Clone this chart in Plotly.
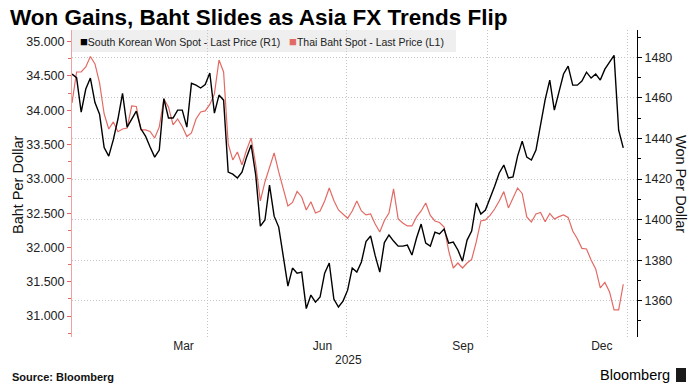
import pandas as pd
import plotly.graph_objects as go

# ---------------- data ----------------
start_date = "2025-01-02"
end_date = "2025-12-29"
n_points = 121

won = [1471.8, 1470.0, 1453.0, 1464.4, 1469.8, 1457.7, 1452.0, 1435.5, 1431.3, 1439.4,
       1449.6, 1462.3, 1445.6, 1449.3, 1453.5, 1444.8, 1441.2, 1435.8, 1430.8, 1434.3,
       1459.7, 1450.1, 1450.1, 1454.0, 1454.0, 1445.6, 1467.2, 1466.3, 1464.9, 1466.6,
       1472.3, 1452.5, 1461.4, 1458.9, 1423.4, 1422.4, 1420.5, 1423.4, 1430.8, 1436.8,
       1421.9, 1396.8, 1399.8, 1417.0, 1401.7, 1396.3, 1382.0, 1367.2, 1376.1, 1373.6,
       1374.1, 1356.1, 1362.8, 1359.3, 1361.8, 1373.6, 1378.6, 1360.8, 1356.9, 1359.8,
       1365.2, 1376.1, 1374.1, 1379.1, 1389.2, 1391.9, 1382.2, 1374.1, 1388.7, 1392.4,
       1389.4, 1386.9, 1386.9, 1387.4, 1382.5, 1390.9, 1397.8, 1388.4, 1386.9, 1393.8,
       1392.9, 1395.3, 1388.4, 1388.9, 1385.0, 1379.5, 1389.9, 1394.3, 1408.2, 1402.7,
       1404.7, 1410.4, 1416.5, 1423.0, 1426.9, 1420.5, 1421.0, 1431.3, 1438.7, 1430.8,
       1429.4, 1434.3, 1446.1, 1459.2, 1468.8, 1454.0, 1462.9, 1471.8, 1475.7, 1466.3,
       1466.3, 1468.3, 1472.7, 1469.8, 1471.8, 1468.8, 1474.2, 1477.7, 1481.0, 1444.1, 1435.4]

baht = [34.106, 34.558, 34.558, 34.631, 34.784, 34.675, 34.398, 33.946, 33.727, 33.830,
        33.688, 33.727, 33.742, 34.062, 34.055, 33.713, 33.713, 33.691, 33.596, 33.757,
        34.165, 34.048, 33.786, 33.873, 33.764, 33.618, 33.669, 33.873, 33.975, 33.990,
        34.085, 34.238, 34.733, 34.558, 33.509, 33.276, 33.392, 33.203, 33.421, 33.596,
        33.203, 32.678, 32.955, 33.174, 33.378, 33.101, 32.831, 32.605, 32.656, 32.816,
        32.736, 32.547, 32.667, 32.503, 32.532, 32.678, 32.867, 32.685, 32.547, 32.488,
        32.426, 32.532, 32.678, 32.532, 32.474, 32.488, 32.343, 32.226, 32.394, 32.503,
        32.853, 32.416, 32.357, 32.314, 32.314, 32.445, 32.532, 32.649, 32.467, 32.386,
        32.364, 32.299, 31.949, 31.701, 31.774, 31.701, 31.774, 31.825, 32.080, 32.386,
        32.401, 32.467, 32.561, 32.678, 32.814, 32.576, 32.722, 32.867, 32.787, 32.445,
        32.372, 32.488, 32.510, 32.376, 32.496, 32.416, 32.449, 32.474, 32.438, 32.241,
        32.128, 31.987, 31.978, 31.818, 31.687, 31.410, 31.490, 31.356, 31.089, 31.089, 31.464]

month_tick_dates = ["2025-03-16", "2025-06-15", "2025-09-15", "2025-12-15"]
month_tick_text = ["Mar", "Jun", "Sep", "Dec"]
quarter_grid_dates = ["2025-04-01", "2025-07-01", "2025-10-01", "2026-01-01"]
year_label = "2025"
year_label_date = "2025-07-02"

won_name = "South Korean Won Spot - Last Price (R1)"
baht_name = "Thai Baht Spot - Last Price (L1)"

dates = pd.date_range(start_date, end_date, periods=n_points)

RED = "#e36a64"
FONT = "Liberation Sans, Arial, sans-serif"
GRID = "#c4c4c4"
GRID_DASH = "1px,2px"

fig = go.Figure()
fig.add_trace(go.Scatter(x=dates, y=baht, name=baht_name, mode="lines",
                         line=dict(color=RED, width=1.2), yaxis="y", showlegend=False))
fig.add_trace(go.Scatter(x=dates, y=won, name=won_name, mode="lines",
                         line=dict(color="#000000", width=1.4), yaxis="y2", showlegend=False))

fig.update_layout(
    width=699, height=391,
    margin=dict(l=72, r=62, t=30, b=54),
    paper_bgcolor="white", plot_bgcolor="white",
    font=dict(family=FONT, color="#222222", size=12),
    title=dict(text="<b>Won Gains, Baht Slides as Asia FX Trends Flip</b>",
               font=dict(family=FONT, size=22.5, color="#000000"),
               x=10 / 699, xref="container", xanchor="left",
               y=1 - 17 / 391, yref="container", yanchor="middle"),
    xaxis=dict(
        type="date",
        range=["2025-01-02", "2026-01-07"],
        tickmode="array", tickvals=month_tick_dates, ticktext=month_tick_text,
        ticks="", showgrid=False, showline=False, zeroline=False,
        tickfont=dict(size=12, color="#222222"),
        minor=dict(tickmode="array", tickvals=quarter_grid_dates, showgrid=True,
                   gridcolor=GRID, griddash=GRID_DASH, gridwidth=1, ticks=""),
    ),
    yaxis=dict(
        range=[30.695, 35.17], side="left",
        tickmode="linear", tick0=31, dtick=0.5, tickformat=".3f",
        ticks="outside", ticklen=4, tickcolor=RED, tickwidth=1,
        showline=True, linecolor="#eda3a0", linewidth=1,
        showgrid=False, zeroline=False,
        tickfont=dict(size=12.5, color="#222222"),
        minor=dict(dtick=0.25, tick0=30.75, ticks="outside", ticklen=3, tickcolor=RED, showgrid=False),
    ),
    yaxis2=dict(
        range=[1342.1, 1493.5], side="right", overlaying="y",
        tickmode="linear", tick0=1360, dtick=20,
        ticks="outside", ticklen=4, tickcolor="#000000", tickwidth=1,
        showline=True, linecolor="#000000", linewidth=1,
        showgrid=True, gridcolor=GRID, griddash=GRID_DASH, gridwidth=1,
        zeroline=False,
        tickfont=dict(size=12.5, color="#222222"),
        minor=dict(dtick=10, tick0=1350, ticks="outside", ticklen=3, tickcolor="#000000", showgrid=False),
    ),
)

# legend-style box (gridlines show through, as in the reference)
fig.add_shape(type="rect", xref="paper", yref="paper",
              x0=0, x1=(456 - 72) / 565, y0=1 - 22 / 307, y1=1,
              fillcolor="#efefef", line=dict(width=0), layer="below")
fig.add_annotation(
    xref="paper", yref="paper", x=(78 - 72) / 565, y=1 - 11 / 307,
    xanchor="left", yanchor="middle", showarrow=False,
    text=(f"<span style='color:#000000;font-size:13px'>■</span>{won_name}"
          f"   <span style='color:{RED};font-size:13px'>■</span>{baht_name}"),
    font=dict(family=FONT, size=10.5, color="#222222"),
)

# axis titles
fig.add_annotation(xref="paper", yref="paper", x=(18 - 72) / 565, y=(337 - 185) / 307,
                   xanchor="center", yanchor="middle", showarrow=False, textangle=-90,
                   text="Baht Per Dollar", font=dict(family=FONT, size=14.5, color="#111111"))
fig.add_annotation(xref="paper", yref="paper", x=(681 - 72) / 565, y=(337 - 184) / 307,
                   xanchor="center", yanchor="middle", showarrow=False, textangle=90,
                   text="Won Per Dollar", font=dict(family=FONT, size=14.5, color="#111111"))

# year label under the month ticks
fig.add_annotation(xref="x", yref="paper", x=year_label_date, y=(337 - 360) / 307,
                   xanchor="center", yanchor="middle", showarrow=False,
                   text=year_label, font=dict(family=FONT, size=12, color="#222222"))

# footer
fig.add_annotation(xref="paper", yref="paper", x=(10 - 72) / 565, y=(337 - 377) / 307,
                   xanchor="left", yanchor="middle", showarrow=False,
                   text="<b>Source: Bloomberg</b>", font=dict(family=FONT, size=11, color="#111111"))
fig.add_annotation(xref="paper", yref="paper", x=(672 - 72) / 565, y=(337 - 375) / 307,
                   xanchor="right", yanchor="middle", showarrow=False,
                   text="Bloomberg", font=dict(family=FONT, size=14.5, color="#000000"))
fig.add_shape(type="rect", xref="paper", yref="paper",
              x0=(676 - 72) / 565, x1=(686 - 72) / 565,
              y0=(337 - 382) / 307, y1=(337 - 368) / 307,
              fillcolor="#1a1a1a", line=dict(width=0))

fig.write_html("out.html", config={"displayModeBar": False},
               post_script="document.body.style.margin='0';document.body.style.padding='0';")
